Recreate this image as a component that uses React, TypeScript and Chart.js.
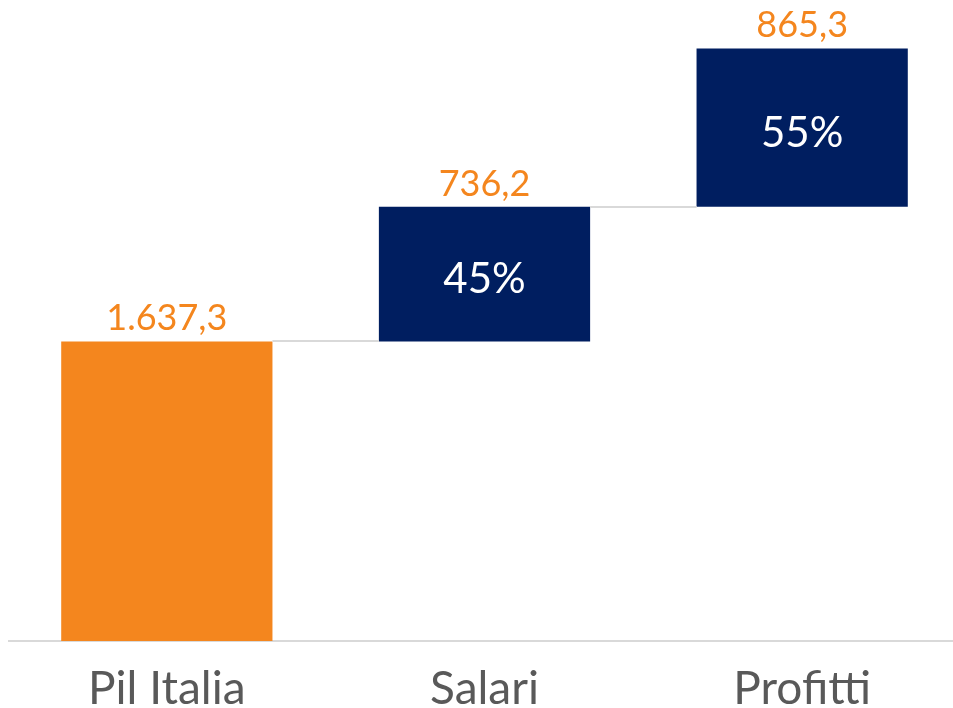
import React, { useEffect, useRef } from "react";
import { Chart, registerables } from "chart.js";

Chart.register(...registerables);

const categories = ["Pil Italia", "Salari", "Profitti"];
const values = [1637.3, 736.2, 865.3];
const valueLabels = ["1.637,3", "736,2", "865,3"];
const percentLabels = ["", "45%", "55%"];
const barColors = ["#F4861E", "#001E60", "#001E60"];

const FONT = "Lato";

export default function App() {
  const ref = useRef<HTMLCanvasElement | null>(null);

  useEffect(() => {
    if (!ref.current) return;
    const starts: number[] = [];
    let acc = 0;
    values.forEach((v) => {
      starts.push(acc);
      acc += v;
    });
    const floating = values.map((v, i) => [starts[i], starts[i] + v]);

    const overlay = {
      id: "overlay",
      afterDatasetsDraw(chart: any) {
        const ctx = chart.ctx;
        const meta = chart.getDatasetMeta(0);
        const yScale = chart.scales.y;
        ctx.save();
        ctx.strokeStyle = "#D9D9D9";
        ctx.lineWidth = 2;
        for (let i = 0; i < meta.data.length - 1; i++) {
          const a = meta.data[i] as any;
          const b = meta.data[i + 1] as any;
          const y = Math.round(yScale.getPixelForValue(starts[i] + values[i]));
          ctx.beginPath();
          ctx.moveTo(a.x + a.width / 2, y);
          ctx.lineTo(b.x - b.width / 2, y);
          ctx.stroke();
        }
        meta.data.forEach((el: any, i: number) => {
          const top = Math.min(el.y, el.base);
          const bottom = Math.max(el.y, el.base);
          ctx.fillStyle = "#F4861E";
          ctx.font = `36px ${FONT}`;
          ctx.textAlign = "center";
          ctx.textBaseline = "alphabetic";
          ctx.fillText(valueLabels[i], el.x, top - 11);
          if (percentLabels[i]) {
            ctx.fillStyle = "#FFFFFF";
            ctx.font = `42px ${FONT}`;
            ctx.fillText(percentLabels[i], el.x, (top + bottom) / 2 + 19);
          }
        });
        ctx.restore();
      },
    };

    const chart = new Chart(ref.current, {
      type: "bar",
      data: {
        labels: categories,
        datasets: [
          {
            data: floating as any,
            backgroundColor: barColors,
            borderWidth: 0,
            barPercentage: 0.665,
            categoryPercentage: 1,
          },
        ],
      },
      options: {
        responsive: false,
        animation: false,
        devicePixelRatio: 1,
        layout: { padding: 0 },
        plugins: {
          legend: { display: false },
          tooltip: { enabled: false },
        },
        scales: {
          x: {
            grid: { display: false, drawTicks: false },
            border: { display: true, color: "#D9D9D9", width: 2 },
            ticks: {
              color: "#595959",
              padding: 25,
              font: { family: FONT, size: 46, lineHeight: 1 },
            },
          },
          y: {
            display: false,
            min: 0,
            max: 3460,
          },
        },
      },
      plugins: [overlay],
    });
    return () => chart.destroy();
  }, []);

  return (
    <div
      style={{
        position: "fixed",
        left: 0,
        top: 0,
        width: 953,
        height: 708,
        overflow: "hidden",
      }}
    >
      <canvas
        ref={ref}
        width={953}
        height={729}
        style={{ position: "absolute", left: 8, top: 8, display: "block" }}
      />
    </div>
  );
}
